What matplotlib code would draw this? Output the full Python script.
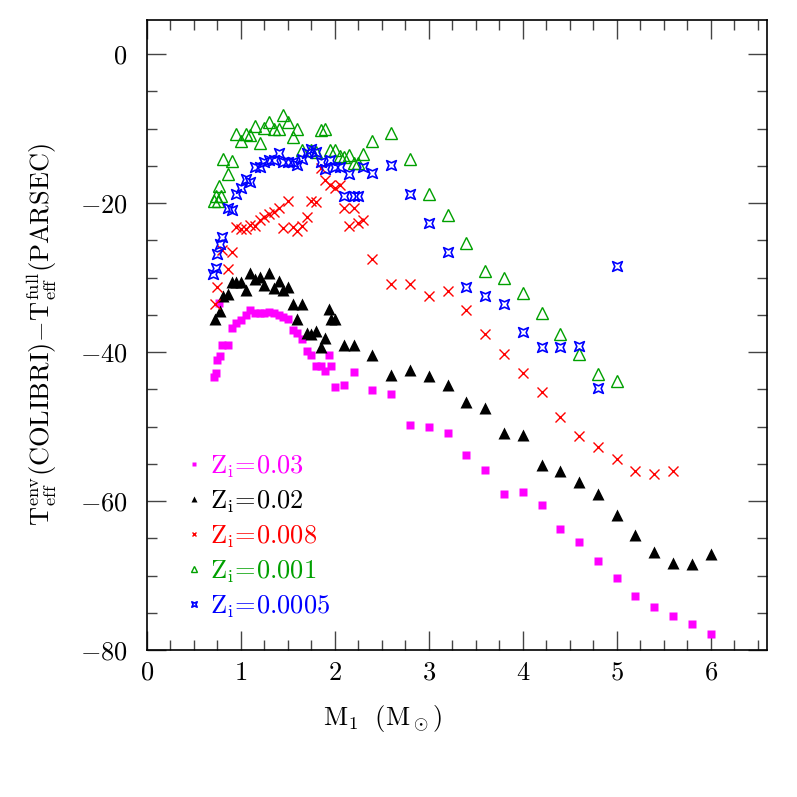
import matplotlib
matplotlib.use("Agg")
import matplotlib.pyplot as plt
from matplotlib.path import Path
from matplotlib.ticker import MultipleLocator

plt.rcParams['mathtext.fontset'] = 'cm'
plt.rcParams['font.family'] = 'serif'
plt.rcParams['font.serif'] = ['cmr10']
plt.rcParams['axes.formatter.use_mathtext'] = True

# Z = 0.03
m_z030 = [0.71, 0.73, 0.75, 0.77, 0.78, 0.80, 0.86, 0.91, 0.95, 1.00, 1.05, 1.10, 1.15, 1.20,
          1.25, 1.30, 1.35, 1.40, 1.45, 1.50, 1.55, 1.60, 1.65, 1.70, 1.75, 1.80, 1.85,
          1.90, 1.94, 1.96, 2.0, 2.1, 2.2, 2.4, 2.6, 2.8, 3.0, 3.2, 3.4, 3.6, 3.8, 4.0,
          4.2, 4.4, 4.6, 4.8, 5.0, 5.2, 5.4, 5.6, 5.8, 6.0]
d_z030 = [-43.4, -42.8, -41.0, -33.4, -40.5, -39.1, -39.0, -36.7, -36.1, -35.7, -35.0, -34.4,
          -34.7, -34.8, -34.7, -34.6, -34.7, -35.0, -35.3, -35.6, -37.0, -37.4, -38.3,
          -39.8, -40.4, -41.9, -41.9, -42.6, -40.4, -41.9, -44.7, -44.4, -42.7, -45.1,
          -45.6, -49.8, -50.0, -50.9, -53.8, -55.8, -59.0, -58.8, -60.5, -63.7, -65.5,
          -68.0, -70.3, -72.7, -74.2, -75.5, -76.5, -77.9]

# Z = 0.02
m_z020 = [0.72, 0.78, 0.81, 0.86, 0.90, 0.95, 1.00, 1.05, 1.10, 1.15, 1.20, 1.25, 1.30, 1.35,
          1.40, 1.45, 1.50, 1.55, 1.60, 1.65, 1.70, 1.75, 1.80, 1.85, 1.90, 1.94, 1.96,
          2.0, 2.1, 2.2, 2.4, 2.6, 2.8, 3.0, 3.2, 3.4, 3.6, 3.8, 4.0, 4.2, 4.4, 4.6, 4.8,
          5.0, 5.2, 5.4, 5.6, 5.8, 6.0]
d_z020 = [-35.6, -34.5, -32.5, -32.2, -30.6, -30.6, -30.6, -31.6, -29.4, -30.2, -29.9, -31.0,
          -29.4, -31.4, -30.5, -31.6, -31.3, -33.6, -35.6, -33.6, -37.4, -37.6, -37.1,
          -39.3, -38.1, -34.2, -35.6, -35.6, -39.0, -39.0, -40.4, -43.1, -42.4, -43.2,
          -44.4, -46.7, -47.5, -50.8, -51.1, -55.1, -55.9, -57.5, -59.1, -61.9, -64.6,
          -66.8, -68.3, -68.4, -67.1]

# Z = 0.008
m_z008 = [0.72, 0.75, 0.80, 0.86, 0.91, 0.95, 1.00, 1.05, 1.10, 1.15, 1.20, 1.25, 1.30, 1.35,
          1.40, 1.45, 1.50, 1.55, 1.60, 1.65, 1.70, 1.75, 1.80, 1.85, 1.90, 1.95, 2.0,
          2.05, 2.1, 2.15, 2.2, 2.25, 2.3, 2.4, 2.6, 2.8, 3.0, 3.2, 3.4, 3.6, 3.8, 4.0,
          4.2, 4.4, 4.6, 4.8, 5.0, 5.2, 5.4, 5.6]
d_z008 = [-33.5, -31.2, -26.3, -28.8, -26.6, -23.2, -23.5, -23.5, -22.9, -23.0, -22.3, -21.8,
          -21.5, -21.2, -20.7, -23.3, -19.7, -23.2, -23.8, -23.1, -21.8, -19.7, -19.8,
          -15.3, -16.9, -17.5, -17.9, -17.6, -20.6, -23.1, -20.6, -22.6, -22.3, -27.5,
          -30.9, -30.9, -32.4, -31.8, -34.3, -37.6, -40.2, -42.8, -45.3, -48.7, -51.2,
          -52.7, -54.3, -55.9, -56.3, -56.0]

# Z = 0.001
m_z001 = [0.71, 0.73, 0.76, 0.77, 0.79, 0.81, 0.86, 0.91, 0.95, 1.00, 1.05, 1.10, 1.15, 1.20,
          1.25, 1.30, 1.35, 1.40, 1.45, 1.50, 1.55, 1.60, 1.65, 1.75, 1.80, 1.85, 1.90,
          1.95, 2.0, 2.05, 2.1, 2.15, 2.2, 2.25, 2.3, 2.4, 2.6, 2.8, 3.0, 3.2, 3.4, 3.6,
          3.8, 4.0, 4.2, 4.4, 4.6, 4.8, 5.0]
d_z001 = [-19.7, -19.0, -19.7, -17.7, -19.0, -14.1, -16.1, -14.3, -10.7, -11.6, -10.7, -10.8,
          -9.7, -11.9, -9.9, -9.1, -10.0, -10.0, -8.1, -9.1, -11.1, -10.1, -12.9, -12.9,
          -13.1, -10.2, -10.1, -12.9, -12.8, -13.7, -13.8, -13.5, -14.6, -14.6, -13.4,
          -11.7, -10.6, -14.1, -18.8, -21.6, -25.4, -29.1, -30.1, -32.0, -34.8, -37.6,
          -40.3, -43.0, -43.9]

# Z = 0.0005
m_z0005 = [0.70, 0.73, 0.75, 0.78, 0.80, 0.86, 0.90, 0.95, 1.00, 1.05, 1.10, 1.15, 1.20, 1.25,
           1.30, 1.35, 1.40, 1.45, 1.50, 1.55, 1.60, 1.65, 1.70, 1.75, 1.80, 1.85, 1.90,
           1.95, 2.0, 2.05, 2.1, 2.15, 2.2, 2.25, 2.3, 2.4, 2.6, 2.8, 3.0, 3.2, 3.4, 3.6,
           3.8, 4.0, 4.2, 4.4, 4.6, 4.8, 5.0]
d_z0005 = [-29.5, -28.7, -26.8, -25.5, -24.6, -20.6, -20.9, -18.7, -17.9, -16.8, -17.1, -15.1,
           -15.1, -14.5, -14.2, -14.2, -13.2, -14.5, -14.5, -14.5, -14.9, -14.0, -13.3,
           -12.7, -13.1, -14.5, -15.4, -14.2, -15.2, -15.2, -19.0, -16.1, -19.0, -19.1,
           -15.2, -16.0, -14.9, -18.7, -22.6, -26.5, -31.3, -32.4, -33.5, -37.3, -39.3,
           -39.3, -39.2, -44.8, -28.5]

labels = [r'$\mathrm{Z_i\!=\!0.03}$', r'$\mathrm{Z_i\!=\!0.02}$', r'$\mathrm{Z_i\!=\!0.008}$',
          r'$\mathrm{Z_i\!=\!0.001}$', r'$\mathrm{Z_i\!=\!0.0005}$']
colors = ['#ff00ff', 'black', '#ff0000', '#00a000', '#0000ff']

# concave square marker for the lowest metallicity
star_path = Path([(-1, -1), (0, -0.55), (1, -1), (0.55, 0), (1, 1), (0, 0.55), (-1, 1),
                  (-0.55, 0), (-1, -1)], closed=True)

fig = plt.figure(figsize=(7.97, 7.97), dpi=100)
ax = fig.add_axes([147 / 797, 1 - 650 / 797, 620 / 797, 630 / 797])

ax.plot(m_z030, d_z030, ls='none', marker='s', ms=6.3, color=colors[0], mec='none', label=labels[0])
ax.plot(m_z020, d_z020, ls='none', marker='^', ms=8, color=colors[1], mec='none', label=labels[1])
ax.plot(m_z008, d_z008, ls='none', marker='x', ms=6.5, mew=1.0, color=colors[2], label=labels[2])
ax.plot(m_z001, d_z001, ls='none', marker='^', ms=8, mfc='none', mew=1.0, color=colors[3], label=labels[3])
ax.plot(m_z0005, d_z0005, ls='none', marker=star_path, ms=7, mfc='none', mew=1.2, color=colors[4], label=labels[4])

ax.set_xlim(0, 6.6)
ax.set_ylim(-80, 4.6)
ax.xaxis.set_major_locator(MultipleLocator(1))
ax.xaxis.set_minor_locator(MultipleLocator(0.25))
ax.yaxis.set_major_locator(MultipleLocator(20))
ax.yaxis.set_minor_locator(MultipleLocator(5))
ax.tick_params(which='both', direction='in', top=True, right=True, labelsize=19, width=1.0, color='#444444')
ax.tick_params(which='major', length=14)
ax.tick_params(axis='y', which='major', pad=14)
ax.tick_params(axis='x', which='major', pad=8)
ax.tick_params(which='minor', length=7)
for s in ax.spines.values():
    s.set_linewidth(1.2)

ax.set_xlabel(r'$\mathrm{M_1\ \ (M_\odot)}$', fontsize=19)
ax.xaxis.set_label_coords(0.38, -0.108)
ax.xaxis.label.set_va('center')
ax.set_ylabel(r'$\mathrm{T_{eff}^{env}(COLIBRI)\!-\!T_{eff}^{full}(PARSEC)}$', fontsize=19)
ax.yaxis.set_label_coords(-0.17, 0.5)
ax.yaxis.label.set_va('center')

leg = ax.legend(loc='lower left', bbox_to_anchor=(0.025, 0.01), frameon=False, fontsize=19,
                markerscale=0.55, handlelength=0.6, handletextpad=0.3, labelspacing=0.32,
                numpoints=1)
for txt, c in zip(leg.get_texts(), colors):
    txt.set_color(c)

fig.savefig('out.png', dpi=100)
